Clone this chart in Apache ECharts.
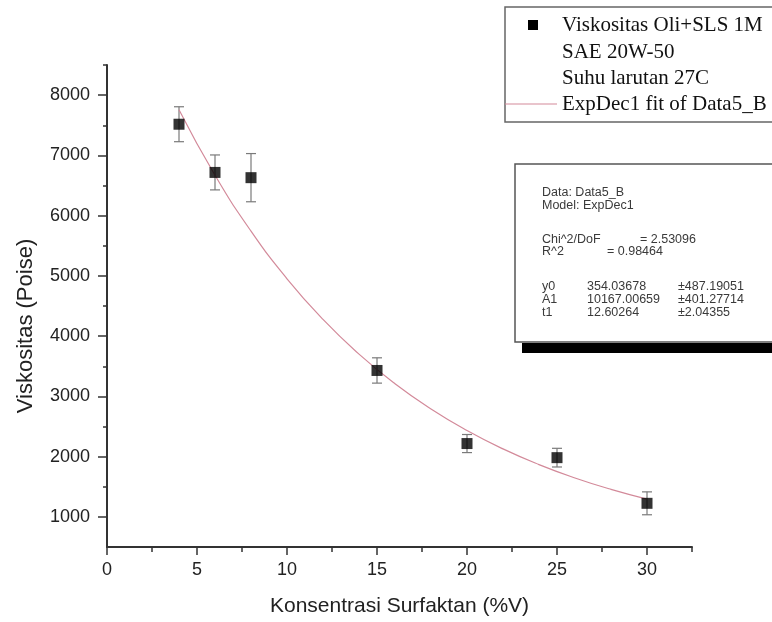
<!DOCTYPE html>
<html>
<head>
<meta charset="utf-8">
<script src="https://cdn.jsdelivr.net/npm/echarts@6/dist/echarts.min.js"></script>
<style>
  html, body { margin: 0; padding: 0; background: #fff; }
  #chart { width: 772px; height: 622px; }
</style>
</head>
<body>
<div id="chart"></div>
<script>
// measured points (konsentrasi %V, viskositas poise, error)
const konsentrasi = [4, 6, 8, 15, 20, 25, 30];
const viskositas = [7517, 6717, 6630, 3430, 2217, 1983, 1225];
const galat = [290, 290, 400, 210, 150, 155, 190];

// ExpDec1 fit curve
const fitX = [4, 6, 8, 10, 12, 14, 16, 18, 20, 22, 24, 26, 28, 30];
const fitY = [7756, 6670, 5743, 4952, 4277, 3702, 3210, 2791, 2434, 2128, 1868, 1646, 1456, 1295];

const xMajor = [0, 5, 10, 15, 20, 25, 30];
const xMinor = [2.5, 7.5, 12.5, 17.5, 22.5, 27.5, 32.5];
const yMajor = [1000, 2000, 3000, 4000, 5000, 6000, 7000, 8000];
const yMinor = [1500, 2500, 3500, 4500, 5500, 6500, 7500, 8500];

const legendLines = ['Viskositas Oli+SLS 1M', 'SAE 20W-50', 'Suhu larutan 27C', 'ExpDec1 fit of Data5_B'];
const statLines = [
  ['Data: Data5_B', '', ''],
  ['Model: ExpDec1', '', ''],
  ['Chi^2/DoF', '= 2.53096', ''],
  ['R^2', '= 0.98464', ''],
  ['y0', '354.03678', '±487.19051'],
  ['A1', '10167.00659', '±401.27714'],
  ['t1', '12.60264', '±2.04355']
];

const chart = echarts.init(document.getElementById('chart'));

const axisColor = '#333';
const sans = '"Liberation Sans", Arial, sans-serif';
const serif = '"Liberation Serif", "Times New Roman", serif';

const scatterData = konsentrasi.map((x, i) => [x, viskositas[i]]);
const errData = konsentrasi.map((x, i) => [x, viskositas[i], galat[i]]);
const fitData = fitX.map((x, i) => [x, fitY[i]]);

// legend box
const legendGraphic = [
  { type: 'rect', shape: { x: 505, y: 7, width: 300, height: 115 },
    style: { fill: '#fff', stroke: '#666', lineWidth: 1.5 } },
  { type: 'rect', shape: { x: 528, y: 20, width: 10, height: 10 }, style: { fill: '#000' } },
  { type: 'line', shape: { x1: 505, y1: 104, x2: 557, y2: 104 },
    style: { stroke: '#d38a9a', lineWidth: 1.2 } }
];
[25, 52, 78, 104].forEach((yy, i) => {
  legendGraphic.push({
    type: 'text', x: 562, y: yy,
    style: { text: legendLines[i], font: '21px ' + serif, fill: '#111', verticalAlign: 'middle' }
  });
});

// fit statistics box
const statY = [193, 206, 240, 252, 287, 300, 313];
const statGraphic = [
  { type: 'rect', shape: { x: 522, y: 343, width: 260, height: 10 }, style: { fill: '#000' } },
  { type: 'rect', shape: { x: 515, y: 164, width: 270, height: 178 },
    style: { fill: '#fff', stroke: '#555', lineWidth: 1.5 } }
];
statLines.forEach((row, i) => {
  const cols = i === 2 ? [542, 640, 0] : i === 3 ? [542, 607, 0] : [542, 587, 678];
  row.forEach((t, j) => {
    if (!t) return;
    statGraphic.push({
      type: 'text', x: cols[j], y: statY[i],
      style: { text: t, font: '12.5px ' + sans, fill: '#3a3a3a', verticalAlign: 'middle' }
    });
  });
});

const option = {
  animation: false,
  backgroundColor: '#fff',
  grid: { left: 107, right: 80, top: 65, bottom: 75 },
  xAxis: [
    {
      type: 'value', min: 0, max: 32.5,
      name: 'Konsentrasi Surfaktan (%V)', nameLocation: 'middle', nameGap: 49,
      nameTextStyle: { fontFamily: sans, fontSize: 21, color: '#222' },
      axisLine: { show: true, onZero: false, lineStyle: { color: axisColor, width: 2 } },
      axisTick: { show: true, length: 8, customValues: xMajor, lineStyle: { color: axisColor, width: 1.5 } },
      axisLabel: { customValues: xMajor, margin: 14, fontFamily: sans, fontSize: 18, color: '#222' },
      splitLine: { show: false }
    },
    {
      type: 'value', min: 0, max: 32.5, position: 'bottom', offset: 0,
      axisLine: { show: false },
      axisTick: { show: true, length: 5, customValues: xMinor, lineStyle: { color: axisColor, width: 1.5 } },
      axisLabel: { show: false },
      splitLine: { show: false }
    }
  ],
  yAxis: [
    {
      type: 'value', min: 500, max: 8500,
      name: 'Viskositas (Poise)', nameLocation: 'middle', nameGap: 70,
      nameTextStyle: { fontFamily: sans, fontSize: 22, color: '#222', padding: [0, 40, 0, 0] },
      axisLine: { show: true, onZero: false, lineStyle: { color: axisColor, width: 2 } },
      axisTick: { show: true, length: 9, customValues: yMajor, lineStyle: { color: axisColor, width: 1.5 } },
      axisLabel: { customValues: yMajor, margin: 17, fontFamily: sans, fontSize: 18, color: '#222',
        formatter: v => String(v) },
      splitLine: { show: false }
    },
    {
      type: 'value', min: 500, max: 8500, position: 'left', offset: 0,
      axisLine: { show: false },
      axisTick: { show: true, length: 4, customValues: yMinor, lineStyle: { color: axisColor, width: 1.5 } },
      axisLabel: { show: false },
      splitLine: { show: false }
    }
  ],
  series: [
    {
      name: 'error',
      type: 'custom',
      xAxisIndex: 0, yAxisIndex: 0,
      data: errData,
      z: 2,
      renderItem: function (params, api) {
        const x = api.value(0), y = api.value(1), e = api.value(2);
        const hi = api.coord([x, y + e]);
        const lo = api.coord([x, y - e]);
        const w = 5;
        const st = { stroke: '#7a7a7a', lineWidth: 1.2 };
        return {
          type: 'group',
          children: [
            { type: 'line', shape: { x1: hi[0], y1: hi[1], x2: lo[0], y2: lo[1] }, style: st },
            { type: 'line', shape: { x1: hi[0] - w, y1: hi[1], x2: hi[0] + w, y2: hi[1] }, style: st },
            { type: 'line', shape: { x1: lo[0] - w, y1: lo[1], x2: lo[0] + w, y2: lo[1] }, style: st }
          ]
        };
      }
    },
    {
      name: 'ExpDec1 fit of Data5_B',
      type: 'line',
      xAxisIndex: 0, yAxisIndex: 0,
      data: fitData,
      smooth: true,
      showSymbol: false,
      z: 3,
      lineStyle: { color: '#d38a9a', width: 1.2 }
    },
    {
      name: 'Viskositas Oli+SLS 1M',
      type: 'scatter',
      xAxisIndex: 0, yAxisIndex: 0,
      data: scatterData,
      symbol: 'rect',
      symbolSize: 11,
      z: 4,
      itemStyle: { color: '#000' }
    }
  ],
  graphic: legendGraphic.concat(statGraphic)
};

chart.setOption(option);
</script>
</body>
</html>
